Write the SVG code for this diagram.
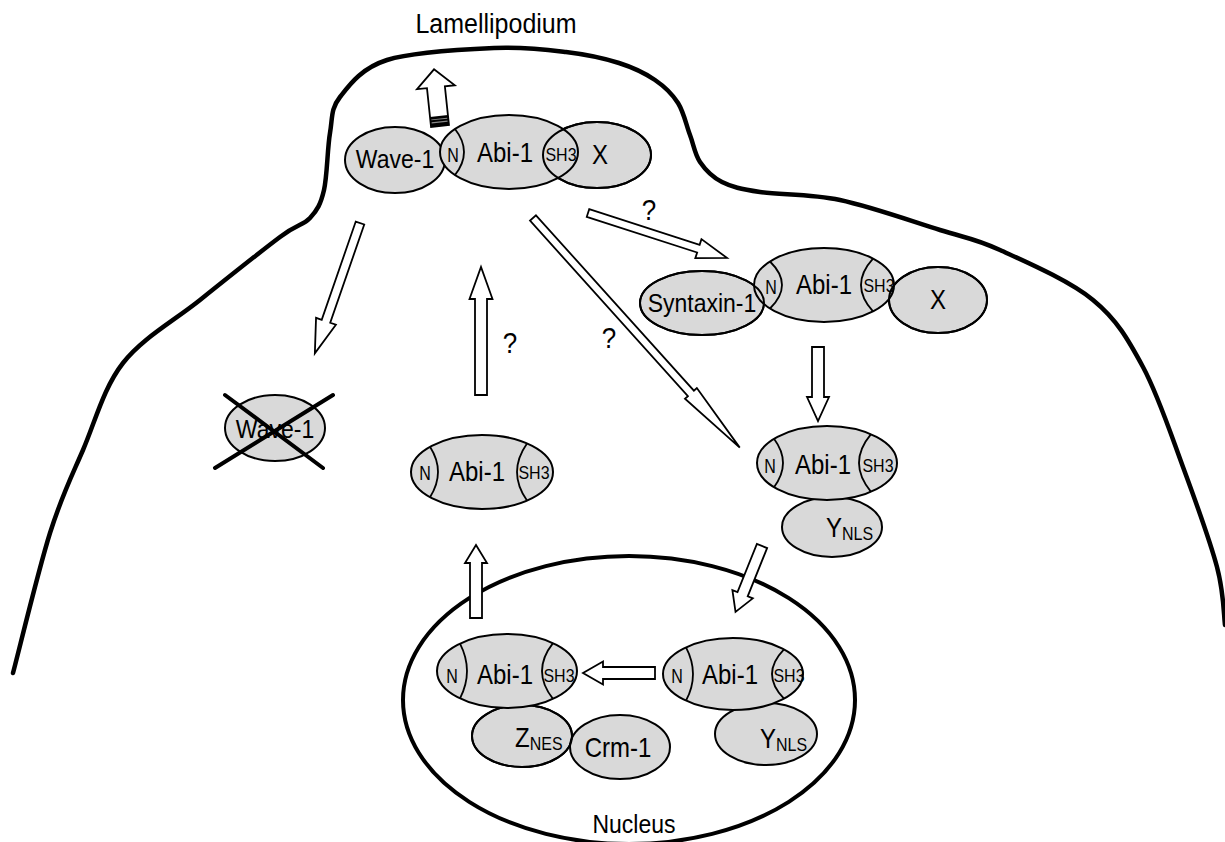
<svg xmlns="http://www.w3.org/2000/svg" width="1225" height="842" viewBox="0 0 1225 842">
<style>
.cell{fill:none;stroke:#000;stroke-width:4.5;stroke-linecap:round;stroke-linejoin:round}
.nuc{fill:none;stroke:#000;stroke-width:4}
.p{fill:#d9d9d9;stroke:#000;stroke-width:2}
.o{fill:none;stroke:#000;stroke-width:2}
.arc{fill:none;stroke:#000;stroke-width:1.8}
.arr{fill:#fff;stroke:#000;stroke-width:1.8;stroke-linejoin:miter}
.cross{stroke:#000;stroke-width:4;stroke-linecap:round}
text{font-family:"Liberation Sans",Arial,sans-serif;fill:#000}
.big{font-size:24px;text-anchor:middle}
.w{font-size:23px;text-anchor:middle}
.lab{font-size:24px}
.n{font-size:16px;text-anchor:middle}
.sh{font-size:16px;text-anchor:middle}
.sub{font-size:16px}
.q{font-size:26px;text-anchor:middle}
.title{font-size:25px;text-anchor:middle}
</style>

<g id="cell">
<path class="cell" d="M13,673 C19.2,649.7 38.3,570.2 50,533 C61.7,495.8 70.8,478.3 83,450 C95.2,421.7 103.5,388 123,363 C142.5,338 173.8,321 200,300 C226.2,279 261.7,250.7 280,237 C298.3,223.3 302.7,225.8 310,218 C317.3,210.2 320.7,204.2 324,190 C327.3,175.8 327.3,148.5 330,133 C332.7,117.5 330.5,109.2 340,97 C349.5,84.8 361.3,68.2 387,60 C412.7,51.8 464.2,49.3 494,48 C523.8,46.7 545.2,49.5 566,52 C586.8,54.5 604.2,58.3 619,63 C633.8,67.7 645.2,73.3 655,80 C664.8,86.7 672.2,93.8 678,103 C683.8,112.2 686.3,125.2 690,135 C693.7,144.8 694.7,154.2 700,162 C705.3,169.8 712,177 722,182 C732,187 740.3,189 760,192 C779.7,195 810,193.7 840,200 C870,206.3 913.3,221.7 940,230 C966.7,238.3 974.5,238.3 1000,250 C1025.5,261.7 1069.2,280.5 1093,300 C1116.8,319.5 1128,339.2 1143,367 C1158,394.8 1170.7,433.7 1183,467 C1195.3,500.3 1210,540.7 1217,567 C1224,593.3 1223.7,615.3 1225,625"/>
<text class="title" transform="translate(496,33) scale(1,1.12)">Lamellipodium</text>
</g>

<g id="nucleus">
<ellipse class="nuc" cx="629" cy="700" rx="226" ry="144"/>
<text class="big" transform="translate(634,833) scale(1,1.12)" style="font-size:23px">Nucleus</text>
</g>

<g id="connectors">
<g transform="translate(440,126) rotate(-96)">
<polygon class="arr" points="0,-9 39,-9 39,-19 57,0 39,19 39,9 0,9"/>
<rect x="0" y="-9" width="10" height="18" fill="#000"/>
<line x1="4" y1="-8" x2="4" y2="8" stroke="#888" stroke-width="1.2"/>
<line x1="7" y1="-8" x2="7" y2="8" stroke="#888" stroke-width="1"/>
</g>
<polygon class="arr" transform="translate(588,213) rotate(17.9)" points="0,-4 116,-4 116,-10 146,0 116,10 116,4 0,4"/>
<polygon class="arr" transform="translate(360,223) rotate(109.1)" points="0,-4.5 104,-4.5 104,-10.5 138,0 104,10.5 104,4.5 0,4.5"/>
<polygon class="arr" transform="translate(481,395) rotate(-90)" points="0,-6 96,-6 96,-11.5 128,0 96,11.5 96,6 0,6"/>
<polygon class="arr" transform="translate(533,218) rotate(48)" points="0,-4 236,-4 236,-8 309,0 236,8 236,4 0,4"/>
<polygon class="arr" transform="translate(818,347) rotate(90)" points="0,-6 50,-6 50,-11 74,0 50,11 50,6 0,6"/>
<polygon class="arr" transform="translate(762,546) rotate(111.9)" points="0,-5.5 52,-5.5 52,-11 71,0 52,11 52,5.5 0,5.5"/>
<polygon class="arr" transform="translate(476,618) rotate(-90)" points="0,-6 55,-6 55,-11 73,0 55,11 55,6 0,6"/>
<polygon class="arr" transform="translate(655,673) rotate(180)" points="0,-6 52,-6 52,-11.5 72,0 52,11.5 52,6 0,6"/>
<text class="q" transform="translate(649,220) scale(1,1.15)">?</text>
<text class="q" transform="translate(510,353) scale(1,1.15)">?</text>
<text class="q" transform="translate(609,348) scale(1,1.15)">?</text>
</g>

<g id="complex-top">
<ellipse class="p" cx="395" cy="160" rx="50" ry="33"/>
<ellipse class="p" cx="597" cy="155" rx="54" ry="33"/>
<ellipse class="p" cx="509" cy="152" rx="69" ry="37"/>
<ellipse class="o" cx="597" cy="155" rx="54" ry="33"/>
<path class="arc" d="M455,129 Q473,152 455,175"/>
<text class="w" transform="translate(395,168) scale(1,1.15)">Wave-1</text>
<text class="n" transform="translate(453,162) scale(1,1.3)">N</text>
<text class="big" transform="translate(505,162) scale(1,1.15)">Abi-1</text>
<text class="sh" transform="translate(561,161) scale(1,1.15)">SH3</text>
<text class="big" transform="translate(600,164) scale(1,1.15)">X</text>
</g>

<g id="wave-deleted">
<ellipse class="p" cx="275" cy="428" rx="50" ry="33"/>
<text class="w" transform="translate(275,438) scale(1,1.15)">Wave-1</text>
<line class="cross" x1="225" y1="395" x2="323" y2="468"/>
<line class="cross" x1="215" y1="468" x2="333" y2="395"/>
</g>

<g id="abi-free">
<ellipse class="p" cx="482" cy="472" rx="71" ry="37"/>
<path class="arc" d="M430,446.8 Q446,472 430,497.2"/>
<path class="arc" d="M527,443.4 Q507,472 527,500.6"/>
<text class="n" transform="translate(425,480) scale(1,1.3)">N</text>
<text class="big" transform="translate(477,481) scale(1,1.15)">Abi-1</text>
<text class="sh" transform="translate(534,479) scale(1,1.15)">SH3</text>
</g>

<g id="complex-syntaxin">
<ellipse class="p" cx="702" cy="303" rx="62" ry="32"/>
<ellipse class="p" cx="938" cy="300" rx="49" ry="33"/>
<ellipse class="p" cx="824" cy="285" rx="70" ry="37"/>
<ellipse class="o" cx="702" cy="303" rx="62" ry="32"/>
<ellipse class="o" cx="938" cy="300" rx="49" ry="33"/>
<path class="arc" d="M770,261.5 Q794,285 770,308.5"/>
<path class="arc" d="M873,258.6 Q849,285 873,311.4"/>
<text class="w" transform="translate(702,312) scale(1,1.15)">Syntaxin-1</text>
<text class="n" transform="translate(771,294) scale(1,1.3)">N</text>
<text class="big" transform="translate(824,294) scale(1,1.15)">Abi-1</text>
<text class="sh" transform="translate(879,292) scale(1,1.15)">SH3</text>
<text class="big" transform="translate(938,309) scale(1,1.15)">X</text>
</g>

<g id="complex-ynls">
<ellipse class="p" cx="832" cy="527" rx="50" ry="30"/>
<ellipse class="p" cx="827" cy="463" rx="70" ry="37"/>
<path class="arc" d="M774,438.8 Q792,463 774,487.2"/>
<path class="arc" d="M871,434.2 Q847,463 871,491.8"/>
<text class="n" transform="translate(770,473) scale(1,1.3)">N</text>
<text class="big" transform="translate(823,474) scale(1,1.15)">Abi-1</text>
<text class="sh" transform="translate(878,472) scale(1,1.15)">SH3</text>
<text class="lab" transform="translate(826,537) scale(1,1.15)">Y<tspan class="sub" dy="3">NLS</tspan></text>
</g>

<g id="complex-nes">
<ellipse class="p" cx="522" cy="736" rx="50" ry="31"/>
<ellipse class="p" cx="620" cy="747" rx="50" ry="32"/>
<ellipse class="o" cx="522" cy="736" rx="50" ry="31"/>
<ellipse class="p" cx="507" cy="671" rx="70" ry="37"/>
<path class="arc" d="M460,643.6 Q474,671 460,698.4"/>
<path class="arc" d="M553,643.1 Q531,671 553,698.9"/>
<text class="n" transform="translate(452,683) scale(1,1.3)">N</text>
<text class="big" transform="translate(505,684) scale(1,1.15)">Abi-1</text>
<text class="sh" transform="translate(559,682) scale(1,1.15)">SH3</text>
<text class="lab" transform="translate(515,747) scale(1,1.15)">Z<tspan class="sub" dy="3">NES</tspan></text>
<text class="big" transform="translate(618,757) scale(1,1.15)">Crm-1</text>
</g>

<g id="complex-nls-nucleus">
<ellipse class="p" cx="766" cy="734" rx="51" ry="31"/>
<ellipse class="p" cx="733" cy="674" rx="70" ry="36"/>
<path class="arc" d="M686,647.3 Q700,674 686,700.7"/>
<path class="arc" d="M784,649.3 Q760,674 784,698.7"/>
<text class="n" transform="translate(677,683) scale(1,1.3)">N</text>
<text class="big" transform="translate(730,684) scale(1,1.15)">Abi-1</text>
<text class="sh" transform="translate(789,682) scale(1,1.15)">SH3</text>
<text class="lab" transform="translate(760,748) scale(1,1.15)">Y<tspan class="sub" dy="3">NLS</tspan></text>
</g>
</svg>
